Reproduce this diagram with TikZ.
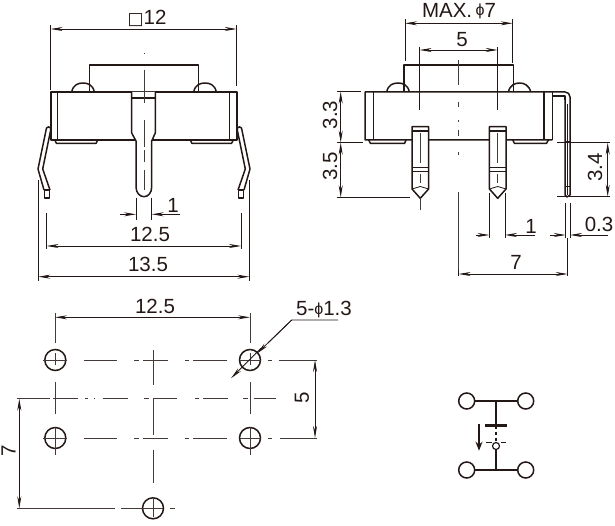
\documentclass[tikz,border=0pt]{standalone}
\usepackage{fontspec}
\setmainfont{Liberation Sans}
\newfontfamily\dejavu{DejaVu Sans}
\usetikzlibrary{arrows.meta}
\definecolor{ink}{HTML}{231815}
\tikzset{
  outline/.style={line width=1.5pt,draw=ink,line join=round},
  thin line/.style={line width=.8pt,draw=ink},
  center line/.style={line width=.7pt,draw=ink!85},
  dimboth/.style={thin line,{Stealth[length=12pt,width=4pt]}-{Stealth[length=12pt,width=4pt]}},
  dimtip/.style={thin line,-{Stealth[length=12pt,width=4pt]}},
  lbl/.style={font=\fontsize{20.5}{20.5}\selectfont,text=ink,inner sep=0pt},
  hole/.style={circle,draw=ink,line width=1.5pt,minimum size=21pt,inner sep=0pt},
  term/.style={circle,draw=ink,line width=1.5pt,minimum size=16pt,inner sep=0pt,fill=white},
}
\begin{document}
\begin{tikzpicture}[x=1pt,y=-1pt]
\useasboundingbox (0,0) rectangle (615,526);

% ===== FRONT VIEW =====
\draw[outline] (89.3,92) -- (89.3,65) -- (198.3,65) -- (198.3,92);
\draw[outline] (51,92) rectangle (237,140);
\draw[outline] (57.7,92) -- (57.7,140) (229.3,92) -- (229.3,140);
\draw[outline] (71.7,92) .. controls (73,85) and (78,83) .. (83,83) .. controls (88,83) and (93,85) .. (94.3,92);
\draw[outline] (193.7,92) .. controls (195,85) and (200,83) .. (205,83) .. controls (210,83) and (215,85) .. (216.3,92);
\draw[outline] (54.7,140) -- (56.5,143.5) -- (96,143.5) -- (97.7,140);
\draw[outline] (190.3,140) -- (192,143.5) -- (231.5,143.5) -- (233.3,140);
% centre pin
\draw[outline,fill=white] (131.7,92) -- (131.7,133) -- (136,141) -- (136,187) .. controls (136,193) and (140,196.7) .. (144,196.7) .. controls (148,196.7) and (151.7,193) .. (151.7,187) -- (151.7,141) -- (155.3,133) -- (155.3,92);
\draw[outline] (131.7,98) -- (155.3,98);
% side legs
\foreach \s/\o in {1/0,-1/288}{
  \begin{scope}[xshift=\o pt,x=\s pt]
  \draw[outline] (50.7,130) -- (50.7,128) .. controls (49.5,126.5) and (47.5,126.5) .. (46.5,128) -- (38,169) -- (44,190) (50.7,130) -- (42.7,169) -- (50,190);
  \draw[outline] (44.5,190) rectangle (49.7,198);
  \end{scope}
}
% dimension
\draw[thin line] (50.7,25) -- (50.7,90) (236.7,25) -- (236.7,86);
\draw[dimboth] (50.7,29) -- (236.7,29);
\node[lbl,anchor=base] (lsq) at (147,24.5) {{\dejavu\fontsize{17}{17}\selectfont □}12};
% centre line
\foreach \a/\b in {53/53.8,70/103,120/147,150/162,170/190}{\draw[center line] (144,\a) -- (144,\b);}
% dims below
\draw[thin line] (136,198) -- (136,220) (151.7,198) -- (151.7,220);
\draw[dimtip] (120,214.3) -- (136,214.3);
\draw[dimtip] (180,214.3) -- (151.7,214.3);
\node[lbl] (l1a) at (173,205) {1};
\draw[thin line] (46.7,213) -- (46.7,249) (241,213) -- (241,249);
\draw[dimboth] (46.7,246) -- (241,246);
\node[lbl] (l125a) at (150,234) {12.5};
\draw[thin line] (38.3,180) -- (38.3,280.7) (249.3,180) -- (249.3,280.7);
\draw[dimboth] (38.3,276.7) -- (249.3,276.7);
\node[lbl] (l135) at (148,264) {13.5};

% ===== SIDE VIEW =====
\draw[outline] (404,92) -- (404,65) -- (513.3,65) -- (513.3,92);
\draw[outline] (552.3,140) -- (365,140) -- (365,92) -- (565,92) .. controls (568,92) and (570,94) .. (570,97);
\draw[outline] (373.3,92) -- (373.3,140) (544,92) -- (544,140) (552.3,92) -- (552.3,140);
\draw[outline] (552.3,96) -- (565,96) -- (565,100);
\draw[outline] (386.7,92) .. controls (388,85) and (393,83) .. (398,83) .. controls (403,83) and (408,85) .. (409.3,92);
\draw[outline] (508.3,92) .. controls (510,85) and (515,83) .. (519.5,83) .. controls (524,83) and (529,85) .. (530.7,92);
\draw[outline] (368.7,140) -- (370.5,143.5) -- (404.5,143.5) -- (406,140);
\draw[outline] (512.7,140) -- (514.5,143.5) -- (546.5,143.5) -- (548.3,140);
% side leg
\draw[outline] (565,100) -- (565,195) -- (567,197) -- (570,195) -- (570,97);
\draw[thin line] (567.5,104) -- (567.5,195);
\draw[thin line] (565,141.7) -- (570,141.7) (565,186.7) -- (570,186.7);
% pins
\foreach \c in {420.3,497.7}{
  \begin{scope}[xshift=\c pt]
  \draw[outline,fill=white] (-8.3,140) -- (-8.3,126.7) -- (8.3,126.7) -- (8.3,140) -- (8.3,189) -- (0,198.3) -- (-8.3,189) -- cycle;
  \draw[outline] (-8.3,131) -- (8.3,131) (-8.3,167.3) -- (8.3,167.3) (-8.3,171.7) -- (8.3,171.7);
  \draw[thin line] (-8.3,189) -- (0,186.5) -- (8.3,189);
  \draw[center line] (0,133) -- (0,163) (0,174) -- (0,183);
  \end{scope}
}
\draw[center line] (420.3,198) -- (420.3,210);
% centre line
\foreach \a/\b in {60/85,102/107,120/122,130/136,152/155,192/275}{\draw[center line] (458.7,\a) -- (458.7,\b);}
% dims
\draw[thin line] (405,19) -- (405,60.7) (512.7,19) -- (512.7,63);
\draw[dimboth] (405,23.3) -- (512.7,23.3);
\node[lbl,anchor=base] (lmax) at (459,17.5) {MAX.\,{\fontsize{16}{16}\selectfont\raisebox{1.5pt}{ϕ}}7};
\draw[thin line] (419.7,46.7) -- (419.7,110) (497.7,46.7) -- (497.7,110);
\draw[dimboth] (419.7,50) -- (497.7,50);
\node[lbl] (l5a) at (462,40) {5};
\draw[thin line] (337,91.7) -- (360.7,91.7) (337,142.7) -- (363,142.7) (337,197.3) -- (410,197.3);
\draw[dimboth] (340.7,91.7) -- (340.7,142.7);
\draw[dimboth] (340.7,142.7) -- (340.7,197.3);
\node[lbl,rotate=90] (l33) at (330,115) {3.3};
\node[lbl,rotate=90] (l35) at (330,166.7) {3.5};
\draw[thin line] (557,142.7) -- (610,142.7) (557,196.7) -- (610,196.7);
\draw[dimboth] (607.7,142.7) -- (607.7,196.7);
\node[lbl,rotate=90] (l34) at (595,167.5) {3.4};
\draw[thin line] (489.3,193) -- (489.3,238) (505,193) -- (505,238);
\draw[dimtip] (475.7,235) -- (489.3,235);
\draw[dimtip] (535,235) -- (505,235);
\node[lbl] (l1b) at (531,226) {1};
\draw[thin line] (565.7,202.7) -- (565.7,238) (570,202.7) -- (570,238);
\draw[dimtip] (550,235) -- (565.7,235);
\draw[dimtip] (607.7,235) -- (570,235);
\node[lbl] (l03) at (599,224) {0.3};
\draw[thin line] (567.7,238) -- (567.7,276);
\draw[thin line] (458.7,270) -- (458.7,276);
\draw[dimboth] (458.7,274) -- (567.7,274);
\node[lbl] (l7a) at (516,262) {7};

% ===== HOLE LAYOUT =====
\node[hole] (h1) at (55.3,360) {};
\node[hole] (h2) at (250,360) {};
\node[hole] (h3) at (55.3,438) {};
\node[hole] (h4) at (250,438) {};
\node[hole] (h5) at (153,508.3) {};
\foreach \y in {360,438}{
  \foreach \a/\b in {43/67,84/117,134/139,143/168,185/189,193/227,240/261,268/272}{\draw[center line] (\a,\y) -- (\b,\y);}
}
\draw[center line] (279,360) -- (317,360) (280,438) -- (317,438);
\foreach \a/\b in {16.7/50,53/77.5,85/87.5,94/95,102.5/127.5,144/148.5,153/177,195/198.5,203/227.5,243/248,253.5/276}{\draw[center line] (\a,398.7) -- (\b,398.7);}
\foreach \x in {55.3,250}{
  \foreach \a/\b in {313/343,353/365,382/414,427/455}{\draw[center line] (\x,\a) -- (\x,\b);}
}
\foreach \a/\b in {350/385,398.7/435,450/483,497/517}{\draw[center line] (153,\a) -- (153,\b);}
\draw[center line] (16.7,508.3) -- (115,508.3) (120.7,508.3) -- (163,508.3) (170,508.3) -- (175,508.3);
\draw[dimboth] (55,317.3) -- (250,317.3);
\node[lbl] (l125b) at (155,306) {12.5};
\draw[dimboth] (315,360) -- (315,438);
\node[lbl,rotate=90] (l5b) at (302,398) {5};
\draw[dimboth] (19.3,398.7) -- (19.3,508.3);
\node[lbl,rotate=90] (l7b) at (8.5,451) {7};
% leader
\coordinate (ld1) at (291.7,320);
\coordinate (ld2) at (338,320);
\draw[thin line] (ld2) -- (ld1) -- (268,343);
\draw[thin line,-{Stealth[length=12pt,width=4pt]}] (ld1) -- (257,353.5);
\draw[thin line,-{Stealth[length=12pt,width=4pt]}] (261,348.3) -- (231,378.3);
\node[lbl,anchor=base] (lhole) at (324,315.5) {5-{\fontsize{16}{16}\selectfont\raisebox{1.5pt}{ϕ}}1.3};

% ===== SWITCH SYMBOL =====
\node[term] (t1) at (466.7,401) {};
\node[term] (t2) at (525.7,401) {};
\node[term] (t3) at (466.7,470) {};
\node[term] (t4) at (525.7,470) {};
\draw[outline] (t1) -- (t2) (t3) -- (t4);
\coordinate (mt) at (496,401);
\coordinate (mb) at (496,470);
\node[circle,draw=ink,line width=1.2pt,minimum size=7pt,inner sep=0pt] (sw) at (496,446) {};
\coordinate (barc) at (496,425.7);
\draw[outline] (mt) -- (barc);
\draw[ink,line width=3pt] (485,425.7) -- (506.7,425.7);
\draw[outline,dash pattern=on 3.5pt off 2.5pt] (barc) -- (sw);
\draw[outline] (sw) -- (mb);
\draw[line width=1.1pt,draw=ink] (486,442.7) -- (491.5,442.7) (501,442.7) -- (505.7,442.7);
\draw[line width=1.3pt,draw=ink,-{Stealth[length=9pt,width=7pt]}] (479,424) -- (479,450.7);
\end{tikzpicture}
\end{document}
